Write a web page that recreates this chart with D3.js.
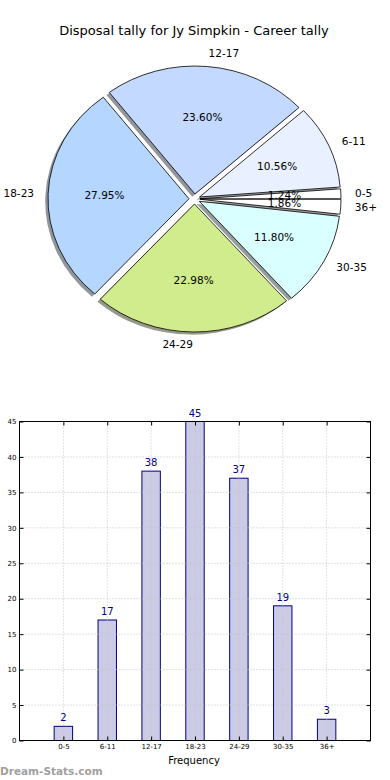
<!DOCTYPE html>
<html lang="en">
<head>
  <meta charset="UTF-8">
  <title>Disposal tally for Jy Simpkin - Career tally</title>
  <script src="https://d3js.org/d3.v7.min.js"></script>
  <style>
    body { margin: 0; background: #fff; }
    svg { display: block; font-family: "DejaVu Sans", sans-serif; }
    .grid line { stroke: #c4c4c4; stroke-dasharray: 1,2; }
    .axis path, .axis line { stroke: #000; }
    .axis text { font-size: 7px; fill: #000; font-family: "DejaVu Sans", sans-serif; }
  </style>
</head>
<body>
  <div id="chart"></div>
  <script>
    // data
    const categories = ["0-5", "6-11", "12-17", "18-23", "24-29", "30-35", "36+"];
    const counts = [2, 17, 38, 45, 37, 19, 3];
    const yTicks = [0, 5, 10, 15, 20, 25, 30, 35, 40, 45];

    // slice colours
    const sliceColors = ["#ffffff", "#e9f0ff", "#c4d9ff", "#b5d6ff", "#d0ec8c", "#d9ffff", "#ffffff"];

    const W = 390, H = 780;
    const svg = d3.select("#chart").append("svg")
      .attr("width", W).attr("height", H);

    svg.append("text")
      .attr("x", 194).attr("y", 35)
      .attr("text-anchor", "middle")
      .attr("font-size", 13)
      .text("Disposal tally for Jy Simpkin - Career tally");

    // ---- pie ----
    const cx = 194.5, cy = 199, rx = 141, sy = 128 / 141, explode = 5.5;
    const total = d3.sum(counts);
    const pie = d3.pie().sort(null)
      .startAngle(Math.PI / 2)
      .endAngle(Math.PI / 2 - 2 * Math.PI);
    const arcs = pie(counts);
    const arc = d3.arc().innerRadius(0).outerRadius(rx);
    const mid = d => (d.startAngle + d.endAngle) / 2;

    const pieG = svg.append("g")
      .attr("transform", `translate(${cx},${cy}) scale(1,${sy})`);

    // shadows first, all beneath wedges
    pieG.selectAll(".shadow")
      .data(arcs)
      .enter().append("path")
      .attr("class", "shadow")
      .attr("transform", d => `translate(${explode * Math.sin(mid(d)) - 2.8},${-explode * Math.cos(mid(d)) + 2.9})`)
      .attr("d", arc)
      .attr("fill", (d, i) => {
        const c = d3.rgb(sliceColors[i]);
        return d3.rgb(c.r * 0.3, c.g * 0.3, c.b * 0.3);
      })
      .attr("fill-opacity", 0.55);

    pieG.selectAll(".wedge")
      .data(arcs)
      .enter().append("path")
      .attr("class", "wedge")
      .attr("transform", d => `translate(${explode * Math.sin(mid(d))},${-explode * Math.cos(mid(d))})`)
      .attr("d", arc)
      .attr("fill", (d, i) => sliceColors[i])
      .attr("stroke", "#000")
      .attr("stroke-width", 0.8)
      .attr("vector-effect", "non-scaling-stroke");

    const pct = d3.format(".2f");
    svg.selectAll(".pct")
      .data(arcs)
      .enter().append("text")
      .attr("class", "pct")
      .attr("x", d => cx + (0.6 * rx + explode) * Math.sin(mid(d)))
      .attr("y", d => cy - (0.6 * rx + explode) * Math.cos(mid(d)) * sy)
      .attr("dy", "0.35em")
      .attr("text-anchor", "middle")
      .attr("font-size", 10.5)
      .text(d => pct(d.value / total * 100) + "%");

    svg.selectAll(".plabel")
      .data(arcs)
      .enter().append("text")
      .attr("class", "plabel")
      .attr("x", d => cx + (1.1 * rx + explode) * Math.sin(mid(d)))
      .attr("y", d => cy - (1.1 * rx + explode) * Math.cos(mid(d)) * sy)
      .attr("dy", "0.35em")
      .attr("text-anchor", d => Math.sin(mid(d)) > 0 ? "start" : "end")
      .attr("font-size", 10.5)
      .text((d, i) => categories[i]);

    // ---- bar chart ----
    const plotL = 19.5, plotR = 370.5, plotT = 421.5, plotB = 740.5;
    const x = d3.scaleLinear().domain([0, categories.length + 1]).range([plotL, plotR]);
    const y = d3.scaleLinear().domain([0, 45]).range([plotB, plotT]);
    const barW = 0.42;

    svg.selectAll(".bar")
      .data(counts)
      .enter().append("rect")
      .attr("class", "bar")
      .attr("x", (d, i) => x(i + 1 - barW / 2))
      .attr("y", d => y(d))
      .attr("width", x(barW) - x(0))
      .attr("height", d => y(0) - y(d))
      .attr("fill", "#cbcbe6")
      .attr("stroke", "#000080")
      .attr("stroke-width", 1);

    // grid lines drawn over bars
    const grid = svg.append("g").attr("class", "grid");
    grid.selectAll(".gy").data(yTicks.slice(1, -1)).enter().append("line")
      .attr("x1", plotL).attr("x2", plotR)
      .attr("y1", d => y(d)).attr("y2", d => y(d));
    grid.selectAll(".gx").data(categories).enter().append("line")
      .attr("x1", (d, i) => x(i + 1)).attr("x2", (d, i) => x(i + 1))
      .attr("y1", plotT).attr("y2", plotB);

    svg.selectAll(".val")
      .data(counts)
      .enter().append("text")
      .attr("class", "val")
      .attr("x", (d, i) => x(i + 1))
      .attr("y", d => y(d) - 5)
      .attr("text-anchor", "middle")
      .attr("font-size", 10)
      .attr("fill", "#00008b")
      .text(d => d);

    const yAxis = svg.append("g").attr("class", "axis")
      .attr("transform", `translate(${plotL},0)`)
      .call(d3.axisLeft(y).tickValues(yTicks).tickSize(-4).tickPadding(3));
    yAxis.select(".domain").remove();
    svg.append("g").attr("class", "axis")
      .attr("transform", `translate(${plotR},0)`)
      .call(d3.axisRight(y).tickValues(yTicks).tickSize(-4).tickFormat(""))
      .select(".domain").remove();

    const xAxis = svg.append("g").attr("class", "axis")
      .attr("transform", `translate(0,${plotB})`)
      .call(d3.axisBottom(x).tickValues(d3.range(1, categories.length + 1))
        .tickFormat(d => categories[d - 1]).tickSize(-4).tickPadding(4));
    xAxis.select(".domain").remove();
    svg.append("g").attr("class", "axis")
      .attr("transform", `translate(0,${plotT})`)
      .call(d3.axisTop(x).tickValues(d3.range(1, categories.length + 1)).tickSize(-4).tickFormat(""))
      .select(".domain").remove();

    svg.append("rect")
      .attr("x", plotL).attr("y", plotT)
      .attr("width", plotR - plotL).attr("height", plotB - plotT)
      .attr("fill", "none").attr("stroke", "#000").attr("stroke-width", 1);

    svg.append("text")
      .attr("x", 194).attr("y", 764)
      .attr("text-anchor", "middle")
      .attr("font-size", 10)
      .text("Frequency");

    svg.append("text")
      .attr("x", 0).attr("y", 775)
      .attr("font-size", 10.5)
      .attr("font-weight", "bold")
      .attr("fill", "#a0a0a0")
      .text("Dream-Stats.com");
  </script>
</body>
</html>
